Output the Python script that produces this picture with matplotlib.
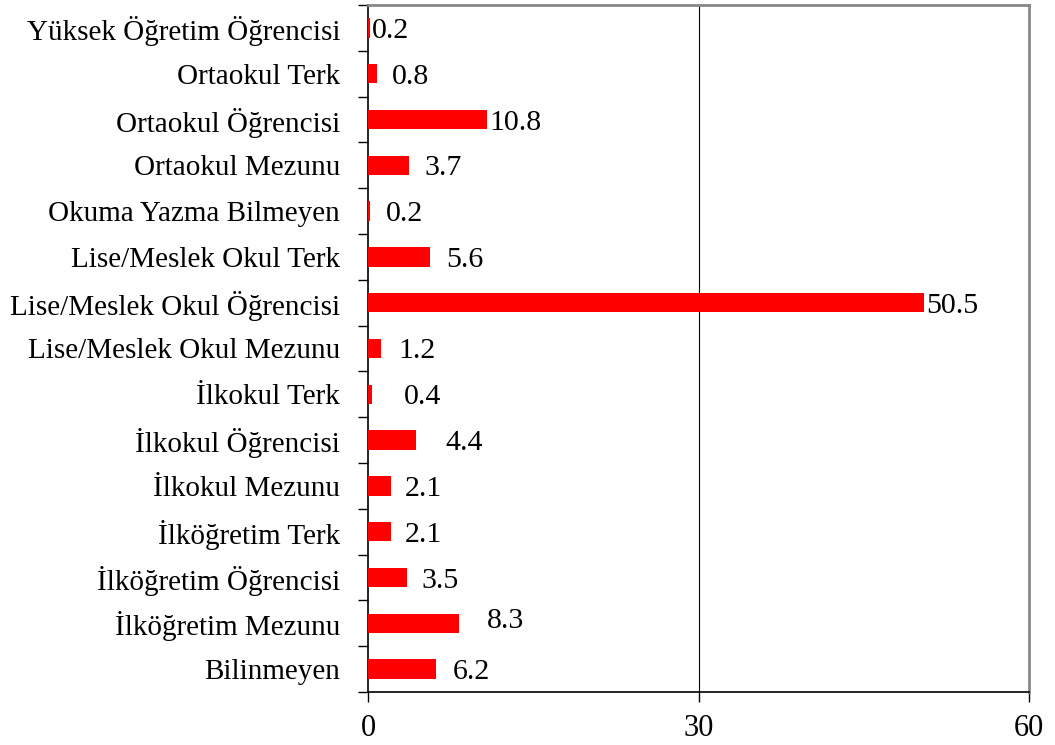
import matplotlib
matplotlib.use("Agg")
import matplotlib.pyplot as plt
import numpy as np

categories = ["Bilinmeyen", "İlköğretim Mezunu", "İlköğretim Öğrencisi", "İlköğretim Terk",
              "İlkokul Mezunu", "İlkokul Öğrencisi", "İlkokul Terk", "Lise/Meslek Okul Mezunu",
              "Lise/Meslek Okul Öğrencisi", "Lise/Meslek Okul Terk", "Okuma Yazma Bilmeyen",
              "Ortaokul Mezunu", "Ortaokul Öğrencisi", "Ortaokul Terk", "Yüksek Öğretim Öğrencisi"]
values = [6.2, 8.3, 3.5, 2.1, 2.1, 4.4, 0.4, 1.2, 50.5, 5.6, 0.2, 3.7, 10.8, 0.8, 0.2]
labels = ["6.2", "8.3", "3.5", "2.1", "2.1", "4.4", "0.4", "1.2", "50.5", "5.6", "0.2", "3.7", "10.8", "0.8", "0.2"]
# label offsets (points) from bar end, and vertical shift
label_dx = [12, 20, 11, 10, 10, 21, 23, 12, 1.5, 12, 11, 11, 2, 11, 1]
label_dy = [0, 4, 0, 0, 0, 0, 0, 0, 0, 0, 0, 0, 0, 0, 0]
xticks = [0, 30, 60]

plt.rcParams['font.family'] = ['Liberation Serif', 'DejaVu Serif']

fig = plt.figure(figsize=(10.55, 7.45), dpi=100)
ax = fig.add_axes([368/1055, 1-692/745, (1029-368)/1055, (692-5)/745])

y = np.arange(len(categories))
ax.barh(y, values, height=0.42, color='#ff0000', zorder=3)
ax.set_xlim(0, 60)
ax.set_ylim(-0.5, len(categories)-0.5)
ax.set_xticks(xticks)
ax.set_xticklabels([str(t) for t in xticks], fontsize=22)
ax.set_yticks(y)
ax.set_yticklabels(categories, fontsize=21)
ax.set_yticks(np.arange(-0.5, len(categories)), minor=True)
ax.tick_params(axis='y', which='major', length=0, pad=20)
ax.tick_params(axis='y', which='minor', length=7, width=1, color='black', direction='out')
ax.tick_params(axis='x', which='major', length=7, width=1, pad=9, direction='out')
ax.axvline(30, color='black', lw=0.8, zorder=1)

for s in ['left', 'bottom']:
    ax.spines[s].set_color('black')
    ax.spines[s].set_linewidth(1.2)
for s in ['top', 'right']:
    ax.spines[s].set_color('#888888')
    ax.spines[s].set_linewidth(2)

for yi, v, lab, dx, dy in zip(y, values, labels, label_dx, label_dy):
    ax.annotate(lab, (v, yi), xytext=(dx, dy), textcoords='offset points',
                ha='left', va='center_baseline', fontsize=21.5, zorder=4)

fig.savefig("out.png", dpi=100)
